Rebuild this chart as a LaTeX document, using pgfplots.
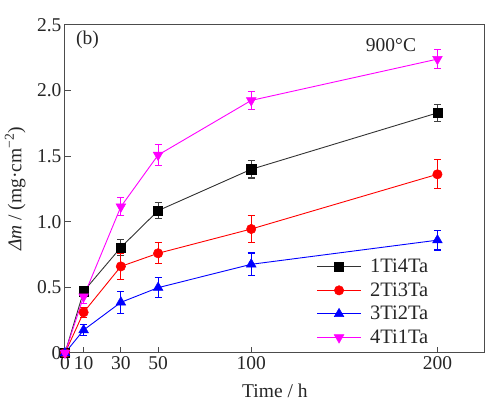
\documentclass[border=0pt]{standalone}
\usepackage{fontspec}
\setmainfont{Liberation Serif}
\usepackage{pgfplots}
\pgfplotsset{compat=1.18}
\usetikzlibrary{calc}
\definecolor{mag}{RGB}{255,0,255}
\definecolor{rd}{RGB}{255,0,0}
\definecolor{bl}{RGB}{0,0,255}
\newcommand{\myfont}{\fontsize{19.5}{23}\selectfont}
\newcommand{\legfont}{\fontsize{20.5}{24}\selectfont}
\begin{document}
\begin{tikzpicture}
\begin{axis}[
  scale only axis, width=419pt, height=328pt,
  xmin=0, xmax=225, ymin=0, ymax=2.5,
  xtick={0,10,30,50,100,200},
  ytick={0,0.5,1,1.5,2,2.5},
  yticklabels={0,0.5,1.0,1.5,2.0,2.5},
  tick pos=left, tick align=inside,
  major tick length=6pt,
  axis line style={black!70, line width=1pt},
  every tick/.style={black!70, line width=1pt},
  /pgf/number format/assume math mode=true,
  tick label style={font=\myfont, text=black!85},
  label style={font=\myfont, text=black!85},
  xlabel={Time / h},
  ylabel={\textit{Δm} / (mg·cm\textsuperscript{−2})},
  xlabel style={at={(axis description cs:0.501,-0.116)}, anchor=center},
  ylabel style={at={(axis description cs:-0.119,0.5)}, anchor=center, rotate=0},
  clip=false,
  legend style={draw=none, fill=none, font=\legfont, text=black!85,
    at={(rel axis cs:0.600,0.291)}, anchor=north west, row sep=5.5pt,
    inner sep=0pt, nodes={inner sep=1.5pt},
    /tikz/every odd column/.append style={column sep=7pt}},
  legend cell align=left,
  legend image code/.code={\draw[mark repeat=2,mark phase=2] plot coordinates {(0pt,0pt) (22pt,0pt) (44pt,0pt)};},
  every axis plot/.append style={line width=0.9pt},
  error bars/y dir=both, error bars/y explicit,
]
\addplot[black!80, mark=square*, mark size=4.6pt, mark options={fill=black, draw=black, line width=0.5pt},
  error bars/.cd, error bar style={line width=1.1pt, black!75}, error mark options={rotate=90, mark size=3.5pt, line width=1.1pt, black!75}]
  coordinates {(0,0) +- (0,0) (10,0.47) +- (0,0.03) (30,0.805) +- (0,0.06) (50,1.085) +- (0,0.06) (100,1.40) +- (0,0.066) (200,1.83) +- (0,0.067)};
\addlegendentry{1Ti4Ta}
\addplot[rd, mark=*, mark size=4.7pt, mark options={fill=rd, draw=rd, line width=0.5pt},
  error bars/.cd, error bar style={line width=1.1pt, rd}, error mark options={rotate=90, mark size=3.5pt, line width=1.1pt, rd}]
  coordinates {(0,0) +- (0,0) (10,0.31) +- (0,0.04) (30,0.66) +- (0,0.1) (50,0.76) +- (0,0.08) (100,0.945) +- (0,0.1) (200,1.362) +- (0,0.11)};
\addlegendentry{2Ti3Ta}
\addplot[bl, mark=triangle*, mark size=5.6pt, mark options={fill=bl, draw=bl, line width=0.5pt},
  error bars/.cd, error bar style={line width=1.1pt, bl}, error mark options={rotate=90, mark size=3.5pt, line width=1.1pt, bl}]
  coordinates {(0,0) +- (0,0) (10,0.175) +- (0,0.04) (30,0.386) +- (0,0.083) (50,0.498) +- (0,0.075) (100,0.676) +- (0,0.086) (200,0.86) +- (0,0.075)};
\addlegendentry{3Ti2Ta}
\addplot[mag, mark=triangle*, mark size=5.6pt, mark options={rotate=180, fill=mag, draw=mag, line width=0.5pt},
  error bars/.cd, error bar style={line width=1.1pt, mag}, error mark options={rotate=90, mark size=3.5pt, line width=1.1pt, mag}]
  coordinates {(0,0) +- (0,0) (10,0.43) +- (0,0.05) (30,1.115) +- (0,0.067) (50,1.509) +- (0,0.08) (100,1.925) +- (0,0.07) (200,2.24) +- (0,0.072)};
\addlegendentry{4Ti1Ta}
\node[anchor=west, font=\myfont, text=black!85] at (rel axis cs:0.018,0.955) {(b)};
\node[anchor=center, font=\myfont, text=black!85] at (rel axis cs:0.778,0.939) {900°C};
\coordinate (bl) at (rel axis cs:0,0);
\coordinate (tr) at (rel axis cs:1,1);
\end{axis}
\pgfresetboundingbox
\path ($(bl)+(-65pt,-55pt)$) rectangle ($(tr)+(16pt,25pt)$);
\end{tikzpicture}
\end{document}
